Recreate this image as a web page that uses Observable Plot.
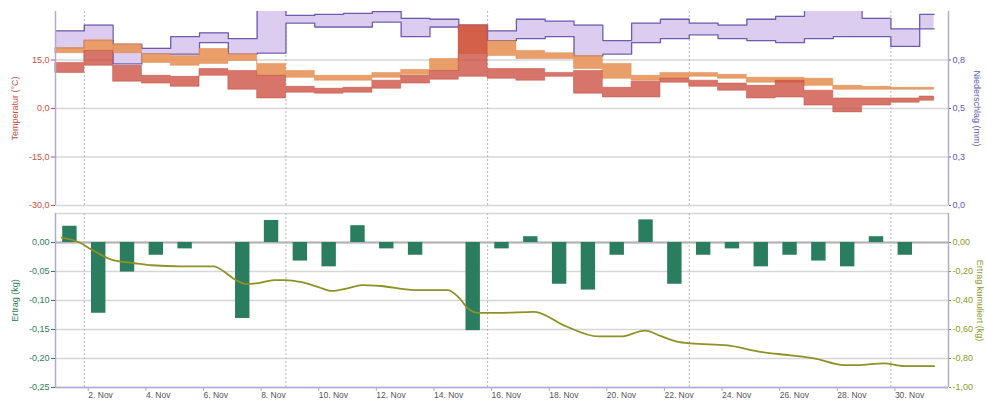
<!DOCTYPE html>
<html>
<head>
<meta charset="utf-8">
<script src="https://cdn.jsdelivr.net/npm/d3@7"></script>
<script src="https://cdn.jsdelivr.net/npm/@observablehq/plot@0.6"></script>
<style>
  body { margin: 0; overflow: hidden; background: #fff; }
  #chart { width: 986px; height: 403px; overflow: hidden; }
  #chart svg { display: block; }
</style>
</head>
<body>
<div id="chart"></div>
<script>
// ---------- data ----------
const bandDates = ["2015-11-01","2015-11-02","2015-11-03","2015-11-04","2015-11-05","2015-11-06","2015-11-07","2015-11-08","2015-11-09","2015-11-10","2015-11-11","2015-11-12","2015-11-13","2015-11-14","2015-11-15","2015-11-16","2015-11-17","2015-11-18","2015-11-19","2015-11-20","2015-11-21","2015-11-22","2015-11-23","2015-11-24","2015-11-25","2015-11-26","2015-11-27","2015-11-28","2015-11-29","2015-11-30","2015-12-01"];
const bandEnd = "2015-12-01T12:00Z";

const precipHigh = [0.90,0.93,0.83,0.81,0.87,0.89,0.86,1.05,0.98,0.985,0.99,1.00,0.965,0.96,0.93,0.90,0.96,0.95,0.93,0.85,0.94,0.96,0.94,0.93,0.96,0.975,1.03,1.03,0.965,0.91,0.985];
const precipLow  = [0.81,0.85,0.73,0.78,0.78,0.84,0.78,0.785,0.94,0.92,0.92,0.945,0.87,0.92,0.90,0.85,0.86,0.87,0.77,0.78,0.84,0.86,0.88,0.86,0.85,0.84,0.86,0.87,0.87,0.82,0.91];

const tempOrangeHigh = [18.7,21.1,19.9,16.8,16.2,18.4,16.8,13.8,11.6,10.1,10.1,11.0,11.9,15.3,25.7,20.8,17.8,17.1,16.2,13.8,10.1,11.0,11.0,10.4,9.5,9.5,9.2,7.0,6.7,6.4,6.4];
const tempOrangeLow  = [17.1,17.8,17.1,14.1,13.2,13.8,14.7,10.1,9.5,8.6,8.6,9.5,10.4,11.6,16.8,16.2,15.3,15.3,12.2,9.2,8.6,9.2,9.8,9.2,8.0,8.0,7.0,5.8,5.8,5.8,5.8];
const tempRedHigh = [14.1,17.8,13.2,10.1,9.8,12.2,11.6,10.1,6.7,6.1,6.4,8.6,10.1,11.6,25.7,12.2,12.2,11.0,11.6,6.4,8.3,9.2,8.6,7.7,7.0,8.6,5.5,3.1,3.1,3.1,3.7];
const tempRedLow  = [11.0,13.2,8.3,7.7,6.7,10.1,5.8,3.1,4.9,4.6,4.9,6.1,7.7,8.9,9.8,9.2,8.6,9.8,4.6,3.4,3.4,8.0,6.7,5.5,3.1,3.4,0.9,-1.2,0.9,1.8,2.4];

const yieldDates = ["2015-11-01","2015-11-02","2015-11-03","2015-11-04","2015-11-05","2015-11-06","2015-11-07","2015-11-08","2015-11-09","2015-11-10","2015-11-11","2015-11-12","2015-11-13","2015-11-14","2015-11-15","2015-11-16","2015-11-17","2015-11-18","2015-11-19","2015-11-20","2015-11-21","2015-11-22","2015-11-23","2015-11-24","2015-11-25","2015-11-26","2015-11-27","2015-11-28","2015-11-29","2015-11-30"];
const yieldValues = [0.028,-0.122,-0.051,-0.022,-0.011,0,-0.131,0.038,-0.032,-0.042,0.029,-0.011,-0.022,0,-0.152,-0.011,0.010,-0.072,-0.082,-0.022,0.039,-0.072,-0.022,-0.011,-0.042,-0.022,-0.032,-0.042,0.010,-0.022];

const cumTimes = ["2015-11-01T05:00Z","2015-11-01T20:00Z","2015-11-02T06:00Z","2015-11-02T22:00Z","2015-11-03T18:00Z","2015-11-04T08:00Z","2015-11-05T09:00Z","2015-11-06T12:00Z","2015-11-06T20:00Z","2015-11-07T05:00Z","2015-11-07T15:00Z","2015-11-08T01:00Z","2015-11-08T14:00Z","2015-11-08T23:00Z","2015-11-09T13:00Z","2015-11-10T03:00Z","2015-11-10T14:00Z","2015-11-11T04:00Z","2015-11-11T15:00Z","2015-11-12T07:00Z","2015-11-13T11:00Z","2015-11-14T15:00Z","2015-11-14T23:30Z","2015-11-15T08:00Z","2015-11-15T16:00Z","2015-11-16T09:00Z","2015-11-17T15:00Z","2015-11-18T16:00Z","2015-11-19T20:00Z","2015-11-20T15:00Z","2015-11-21T11:00Z","2015-11-22T01:00Z","2015-11-22T14:00Z","2015-11-23T01:00Z","2015-11-24T08:00Z","2015-11-25T09:00Z","2015-11-26T12:00Z","2015-11-27T08:00Z","2015-11-28T09:00Z","2015-11-28T20:00Z","2015-11-29T18:00Z","2015-11-30T11:00Z","2015-12-01T12:00Z"];
const cumValues = [0.034,0,-0.048,-0.116,-0.143,-0.157,-0.164,-0.164,-0.198,-0.253,-0.287,-0.280,-0.259,-0.259,-0.273,-0.307,-0.334,-0.314,-0.294,-0.300,-0.328,-0.328,-0.375,-0.457,-0.485,-0.485,-0.478,-0.573,-0.648,-0.648,-0.608,-0.648,-0.683,-0.696,-0.710,-0.751,-0.778,-0.799,-0.846,-0.846,-0.833,-0.853,-0.853];

const xDomainDates = ["2015-11-01","2015-12-02"];
const mondayDates = ["2015-11-02","2015-11-09","2015-11-16","2015-11-23","2015-11-30"];
const xTickDates = ["2015-11-02","2015-11-04","2015-11-06","2015-11-08","2015-11-10","2015-11-12","2015-11-14","2015-11-16","2015-11-18","2015-11-20","2015-11-22","2015-11-24","2015-11-26","2015-11-28","2015-11-30"];
const xTickLabels = ["2. Nov","4. Nov","6. Nov","8. Nov","10. Nov","12. Nov","14. Nov","16. Nov","18. Nov","20. Nov","22. Nov","24. Nov","26. Nov","28. Nov","30. Nov"];

const tempTicks = [-30,-15,0,15];
const tempTickLabels = ["-30,0","-15,0","0,0","15,0"];
const precipTicks = [0,0.25,0.5,0.75];
const precipTickLabels = ["0,0","0,3","0,5","0,8"];
const yieldTicks = [-0.25,-0.2,-0.15,-0.1,-0.05,0];
const yieldTickLabels = ["-0,25","-0,20","-0,15","-0,10","-0,05","0,00"];
const cumTicks = [-1,-0.8,-0.6,-0.4,-0.2,0];
const cumTickLabels = ["-1,00","-0,80","-0,60","-0,40","-0,20","0,00"];

// ---------- helpers ----------
const D = s => new Date(s.length === 10 ? s + "T00:00Z" : s);
const precipToTemp = p => p * 60 - 30;   // right axis (mm) drawn on the temperature scale
const cumToYield = c => c / 4;           // right axis (cum. kg) drawn on the yield scale
const xDomain = xDomainDates.map(D);
const mondays = mondayDates.map(D);

const bandRows = bandDates.map((d, i) => ({
  date: D(d), pLo: precipLow[i], pHi: precipHigh[i],
  oLo: tempOrangeLow[i], oHi: tempOrangeHigh[i],
  rLo: tempRedLow[i], rHi: tempRedHigh[i]
}));
bandRows.push({...bandRows[bandRows.length - 1], date: D(bandEnd)});

const yieldRows = yieldDates.map((d, i) => ({date: D(d), v: yieldValues[i]}));
const cumRows = cumTimes.map((t, i) => ({date: D(t), v: cumValues[i]}));

const tempLabelMap = new Map(tempTicks.map((t, i) => [t, tempTickLabels[i]]));
const precipLabelMap = new Map(precipTicks.map((p, i) => [precipToTemp(p), precipTickLabels[i]]));
const yieldLabelMap = new Map(yieldTicks.map((t, i) => [t, yieldTickLabels[i]]));
const cumLabelMap = new Map(cumTicks.map((c, i) => [cumToYield(c), cumTickLabels[i]]));
const xLabelMap = new Map(xTickDates.map((d, i) => [+D(d), xTickLabels[i]]));

const font = {fontFamily: "'Liberation Sans', Arial, sans-serif", fontSize: "9px", background: "#fff", overflow: "visible"};
const frameColor = "#aeaad6";
const gridColor = "#d6d6d6";
const dash = {stroke: "#b4b4b4", strokeDasharray: "2,2", strokeWidth: 1};
const H = 3600 * 1000;

// ---------- top panel ----------
const topPlot = Plot.plot({
  width: 986, height: 210,
  marginLeft: 55, marginRight: 38, marginTop: 11, marginBottom: 5,
  style: font,
  x: {type: "utc", domain: xDomain, axis: null},
  y: {domain: [-30, 30], axis: null},
  marks: [
    Plot.ruleY(tempTicks, {stroke: gridColor, strokeWidth: 1.5}),
    Plot.ruleX(mondays, dash),
    Plot.areaY(bandRows, {x: "date", y1: d => precipToTemp(d.pLo), y2: d => precipToTemp(d.pHi), curve: "step-after", fill: "#dccdf0", clip: true}),
    Plot.lineY(bandRows, {x: "date", y: d => precipToTemp(d.pHi), curve: "step-after", stroke: "#6a5cae", strokeWidth: 1.3, clip: true}),
    Plot.lineY(bandRows, {x: "date", y: d => precipToTemp(d.pLo), curve: "step-after", stroke: "#6a5cae", strokeWidth: 1.3, clip: true}),
    Plot.areaY(bandRows, {x: "date", y1: "oLo", y2: "oHi", curve: "step-after", fill: "#e8955a", fillOpacity: 0.9, stroke: "#d9854a", strokeOpacity: 0.6, strokeWidth: 0.8}),
    Plot.areaY(bandRows, {x: "date", y1: "rLo", y2: "rHi", curve: "step-after", fill: "#cc4e40", fillOpacity: 0.78, stroke: "#c04838", strokeOpacity: 0.6, strokeWidth: 0.8}),
    Plot.ruleX(xDomain, {stroke: frameColor, strokeWidth: 1.5}),
    Plot.axisY(tempTicks, {anchor: "left", label: null, tickFormat: d => tempLabelMap.get(d), color: "#c9503e", tickSize: 4, tickPadding: 2, fontSize: 9}),
    Plot.axisY(precipTicks.map(precipToTemp), {anchor: "right", label: null, tickFormat: d => precipLabelMap.get(d), color: "#5d58b3", tickSize: 2, tickPadding: 2, fontSize: 9}),
    Plot.text(["Temperatur (°C)"], {frameAnchor: "left", textAnchor: "middle", rotate: -90, dx: -40, fill: "#c9503e", fontSize: 9}),
    Plot.text(["Niederschlag (mm)"], {frameAnchor: "right", textAnchor: "middle", rotate: 90, dx: 28, fill: "#5d58b3", fontSize: 9})
  ]
});

// ---------- bottom panel ----------
const bottomPlot = Plot.plot({
  width: 986, height: 193,
  marginLeft: 55, marginRight: 38, marginTop: 3, marginBottom: 16,
  style: font,
  x: {type: "utc", domain: xDomain, axis: null},
  y: {domain: [-0.25, 0.05], axis: null},
  marks: [
    Plot.ruleY([...yieldTicks, 0.05], {stroke: gridColor, strokeWidth: 1.5}),
    Plot.ruleY([0], {stroke: "#b2b2b2", strokeWidth: 2}),
    Plot.ruleX(mondays, dash),
    Plot.rectY(yieldRows, {x1: d => new Date(+d.date + 6 * H), x2: d => new Date(+d.date + 18 * H), y: "v", fill: "#2b7d5f"}),
    Plot.lineY(cumRows, {x: "date", y: d => cumToYield(d.v), curve: "monotone-x", stroke: "#8f9125", strokeWidth: 1.8}),
    Plot.ruleX(xDomain, {stroke: frameColor, strokeWidth: 1.5}),
    Plot.ruleY([-0.25], {stroke: frameColor, strokeWidth: 1.5}),
    Plot.axisY(yieldTicks, {anchor: "left", label: null, tickFormat: d => yieldLabelMap.get(d), color: "#2e7d5c", tickSize: 4, tickPadding: 2, fontSize: 9}),
    Plot.axisY(cumTicks.map(cumToYield), {anchor: "right", label: null, tickFormat: d => cumLabelMap.get(d), color: "#8d9a2a", tickSize: 2, tickPadding: 2, fontSize: 9}),
    Plot.axisX(xTickDates.map(D), {anchor: "bottom", label: null, tickFormat: d => xLabelMap.get(+d), textAnchor: "start", dx: 4, tickSize: 4, tickPadding: 0, color: "#555", stroke: frameColor, fontSize: 8.5}),
    Plot.text(["Ertrag (kg)"], {frameAnchor: "left", textAnchor: "middle", rotate: -90, dx: -40, fill: "#2e7d5c", fontSize: 9}),
    Plot.text(["Ertrag kumuliert (kg)"], {frameAnchor: "right", textAnchor: "middle", rotate: 90, dx: 31, fill: "#8d9a2a", fontSize: 9})
  ]
});

const chart = document.getElementById("chart");
chart.appendChild(topPlot);
chart.appendChild(bottomPlot);
</script>
</body>
</html>
